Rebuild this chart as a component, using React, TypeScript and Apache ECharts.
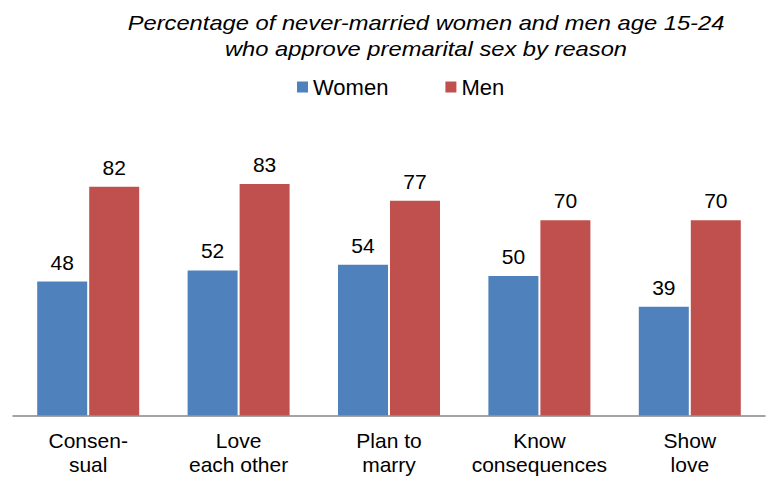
import React, { useEffect, useRef } from "react";
import * as echarts from "echarts";

const categories = ["Consen-\nsual", "Love\neach other", "Plan to\nmarry", "Know\nconsequences", "Show\nlove"];
const women = [48, 52, 54, 50, 39];
const men = [82, 83, 77, 70, 70];
const titleLines = [
  "Percentage of never-married women and men age 15-24",
  "who approve premarital sex by reason",
];

const FONT = "'Liberation Sans', Arial, sans-serif";

export default function App() {
  const ref = useRef<HTMLDivElement>(null);
  useEffect(() => {
    document.body.style.margin = "0";
    const chart = echarts.init(ref.current!, null, { renderer: "svg" });
    const labelStyle = {
      show: true,
      position: "top" as const,
      distance: 9,
      color: "#000",
      fontSize: 21,
      fontFamily: FONT,
    };
    const titleText = (text: string, y: number) => ({
      type: "text",
      x: 426,
      y,
      scaleX: 1.13,
      style: {
        text,
        fontSize: 21,
        fontStyle: "italic",
        fontFamily: FONT,
        fill: "#000",
        textAlign: "center",
        textVerticalAlign: "middle",
      },
    });
    chart.setOption({
      animation: false,
      backgroundColor: "#fff",
      textStyle: { fontFamily: FONT },
      graphic: [titleText(titleLines[0], 23), titleText(titleLines[1], 49)],
      legend: {
        left: 292,
        top: 71,
        itemWidth: 11,
        itemHeight: 11,
        itemGap: 57,
        icon: "rect",
        textStyle: { fontSize: 22, fontFamily: FONT, color: "#000" },
        data: ["Women", "Men"],
      },
      grid: { left: 13, right: 5, top: 136.5, bottom: 62.5, containLabel: false },
      xAxis: {
        type: "category",
        data: categories,
        axisLine: { lineStyle: { color: "#868686", width: 1.5 } },
        axisTick: { show: false },
        axisLabel: {
          color: "#000",
          fontSize: 21,
          lineHeight: 24,
          margin: 13,
          fontFamily: FONT,
          interval: 0,
        },
      },
      yAxis: {
        type: "value",
        min: 0,
        max: 100,
        show: false,
        splitLine: { show: false },
      },
      series: [
        {
          name: "Women",
          type: "bar",
          data: women,
          barWidth: 50,
          barGap: "4%",
          itemStyle: { color: "#4F81BD" },
          label: labelStyle,
        },
        {
          name: "Men",
          type: "bar",
          data: men,
          barWidth: 50,
          itemStyle: { color: "#C0504D" },
          label: labelStyle,
        },
      ],
    });
    return () => chart.dispose();
  }, []);
  return <div ref={ref} style={{ width: 770, height: 478, position: "absolute", left: 0, top: 0 }} />;
}
